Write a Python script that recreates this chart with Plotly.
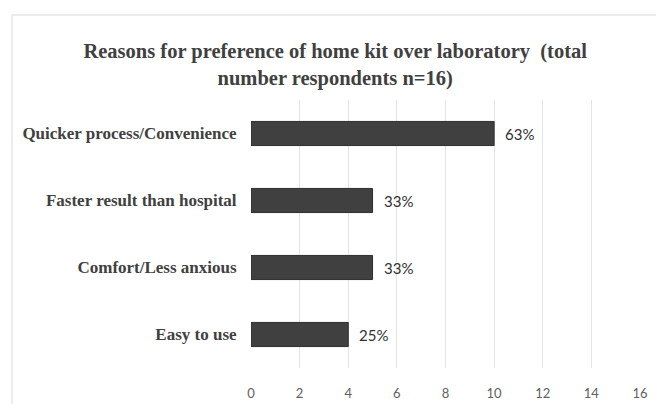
import plotly.graph_objects as go

categories = ["Quicker process/Convenience", "Faster result than hospital",
              "Comfort/Less anxious", "Easy to use"]
counts = [10, 5, 5, 4]
labels = ["63%", "33%", "33%", "25%"]
tick_vals = [0, 2, 4, 6, 8, 10, 12, 14, 16]

W, H = 656, 404
L, R, T, B = 251, 16, 100, 36
pw, ph = W - L - R, H - T - B

def px_to_paper_x(px):
    return (px - L) / pw

def px_to_paper_y(py):
    return (H - B - py) / ph

fig = go.Figure()
fig.add_trace(go.Bar(
    y=categories, x=counts, orientation="h",
    marker=dict(color="#404040", line=dict(color="#2e2e2e", width=1)),
    hoverinfo="skip",
))

for c, v, t in zip(categories, counts, labels):
    fig.add_annotation(x=v, y=c, text=t, showarrow=False, xanchor="left",
                       xshift=9, font=dict(family="Lato", size=15, color="#303030"))

fig.update_layout(
    width=W, height=H,
    margin=dict(l=L, r=R, t=T, b=B, autoexpand=False),
    paper_bgcolor="white", plot_bgcolor="white",
    bargap=0.64,
    showlegend=False,
    title=dict(
        text="Reasons for preference of home kit over laboratory  (total<br>number respondents n=16)",
        x=0.511, xref="container", xanchor="center",
        y=1 - 58 / H, yref="container", yanchor="top",
        font=dict(family="Liberation Serif", size=20.5, color="#404040", weight="bold"),
    ),
    xaxis=dict(range=[0, 16], tickvals=tick_vals, showgrid=True, gridcolor="#e3e3e3",
               gridwidth=1, zeroline=False, showline=False, ticks="outside",
               ticklen=13, tickcolor="rgba(0,0,0,0)", automargin=False,
               tickfont=dict(family="Lato", size=13, color="#606060")),
    yaxis=dict(autorange="reversed", showgrid=False, zeroline=False, showline=False,
               ticks="outside", ticklen=10, tickcolor="rgba(0,0,0,0)", automargin=False,
               tickfont=dict(family="Liberation Serif", size=17, color="#404040", weight="bold")),
    shapes=[
        dict(type="line", xref="paper", yref="paper",
             x0=px_to_paper_x(12), x1=px_to_paper_x(660),
             y0=px_to_paper_y(15), y1=px_to_paper_y(15),
             line=dict(color="#e6e6e6", width=1.5)),
        dict(type="line", xref="paper", yref="paper",
             x0=px_to_paper_x(12), x1=px_to_paper_x(12),
             y0=px_to_paper_y(15), y1=px_to_paper_y(410),
             line=dict(color="#e6e6e6", width=1.5)),
    ],
)

fig.write_html("out.html")
